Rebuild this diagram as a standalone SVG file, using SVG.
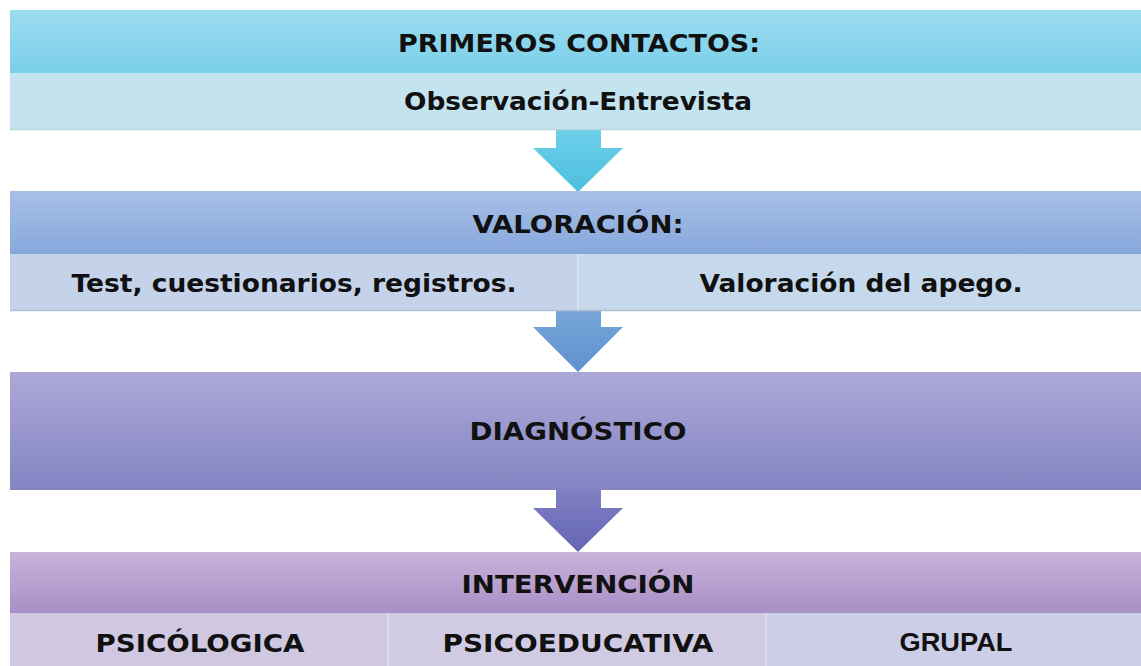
<svg xmlns="http://www.w3.org/2000/svg" width="1141" height="666" viewBox="0 0 1141 666">
<defs>
<linearGradient id="g1" x1="0" y1="0" x2="0" y2="1"><stop offset="0" stop-color="#9cdcf1"/><stop offset="1" stop-color="#7bcfe9"/></linearGradient>
<linearGradient id="g2" x1="0" y1="0" x2="0" y2="1"><stop offset="0" stop-color="#a7c0e7"/><stop offset="1" stop-color="#87a7db"/></linearGradient>
<linearGradient id="g3" x1="0" y1="0" x2="0" y2="1"><stop offset="0" stop-color="#aca9d8"/><stop offset="1" stop-color="#8584c3"/></linearGradient>
<linearGradient id="g4" x1="0" y1="0" x2="0" y2="1"><stop offset="0" stop-color="#c9b3da"/><stop offset="1" stop-color="#a88fc5"/></linearGradient>
<linearGradient id="a1" x1="0" y1="0" x2="0" y2="1"><stop offset="0" stop-color="#6ccfe8"/><stop offset="1" stop-color="#4dbfe0"/></linearGradient>
<linearGradient id="a2" x1="0" y1="0" x2="0" y2="1"><stop offset="0" stop-color="#78a6d8"/><stop offset="1" stop-color="#6090cf"/></linearGradient>
<linearGradient id="a3" x1="0" y1="0" x2="0" y2="1"><stop offset="0" stop-color="#7f7fc3"/><stop offset="1" stop-color="#6566b5"/></linearGradient>
</defs>
<style>
text{font-family:"DejaVu Sans",Verdana,sans-serif;font-weight:bold;font-size:24.5px;fill:#111;text-anchor:middle}
.ar{font-family:"Liberation Sans",Arial,sans-serif;font-size:26px}
.sep{stroke:#ffffff;stroke-opacity:0.45;stroke-width:1.5}
</style>
<rect width="1141" height="666" fill="#ffffff"/>
<g id="connectors">
<path d="M556,129 H601 V148 H623 L578,192 L533,148 H556 Z" fill="url(#a1)"/>
<path d="M556,310 H601 V327 H623 L578,372 L533,327 H556 Z" fill="url(#a2)"/>
<path d="M556,490 H601 V508 H623 L578,552 L533,508 H556 Z" fill="url(#a3)"/>
</g>
<g id="primeros">
<rect x="10" y="10" width="1131" height="63" fill="url(#g1)"/>
<rect x="10" y="73" width="1131" height="56" fill="#c3e3ee"/>
<line x1="10" y1="129.5" x2="1141" y2="129.5" stroke="#b9d3dc" stroke-width="1.5"/>
<text x="579" y="52" textLength="362" lengthAdjust="spacingAndGlyphs">PRIMEROS CONTACTOS:</text>
<text x="578" y="110" textLength="348" lengthAdjust="spacingAndGlyphs">Observación-Entrevista</text>
</g>
<g id="valoracion">
<rect x="10" y="191" width="1131" height="63" fill="url(#g2)"/>
<rect x="10" y="254" width="568" height="56" fill="#c5d3ea"/>
<rect x="578" y="254" width="563" height="56" fill="#c6d8ec"/>
<line x1="578" y1="254" x2="578" y2="310" class="sep"/>
<line x1="10" y1="310.5" x2="1141" y2="310.5" stroke="#b3bfd3" stroke-width="1.5"/>
<text x="578" y="233" textLength="211" lengthAdjust="spacingAndGlyphs">VALORACIÓN:</text>
<text x="294" y="292" textLength="445" lengthAdjust="spacingAndGlyphs">Test, cuestionarios, registros.</text>
<text x="861" y="292" textLength="323" lengthAdjust="spacingAndGlyphs">Valoración del apego.</text>
</g>
<g id="diagnostico">
<rect x="10" y="372" width="1131" height="118" fill="url(#g3)"/>
<text x="578" y="440" textLength="217" lengthAdjust="spacingAndGlyphs">DIAGNÓSTICO</text>
</g>
<g id="intervencion">
<rect x="10" y="552" width="1131" height="61" fill="url(#g4)"/>
<rect x="10" y="613" width="378" height="53" fill="#cfc8e0"/>
<rect x="388" y="613" width="378" height="53" fill="#d0cae2"/>
<rect x="766" y="613" width="375" height="53" fill="#cccde6"/>
<line x1="388" y1="613" x2="388" y2="666" class="sep"/>
<line x1="766" y1="613" x2="766" y2="666" class="sep"/>
<text x="578" y="593" textLength="233" lengthAdjust="spacingAndGlyphs">INTERVENCIÓN</text>
<text x="200" y="652" textLength="209" lengthAdjust="spacingAndGlyphs">PSICÓLOGICA</text>
<text x="578" y="652" textLength="271" lengthAdjust="spacingAndGlyphs">PSICOEDUCATIVA</text>
<text class="ar" x="956" y="651" textLength="113" lengthAdjust="spacingAndGlyphs">GRUPAL</text>
</g>
</svg>
